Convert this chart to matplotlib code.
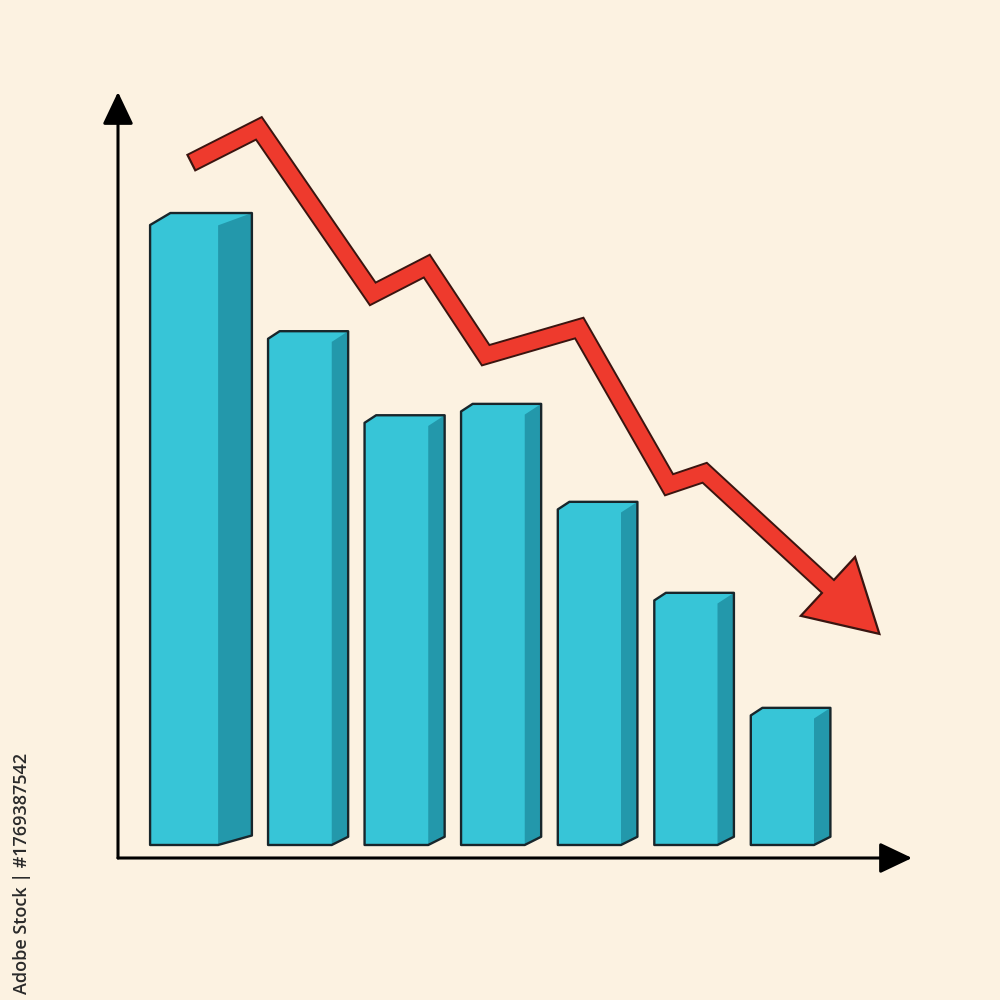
import matplotlib.pyplot as plt
import numpy as np

# bar heights (front face top, baseline = 0)
values = [100, 81.3, 68.0, 69.8, 54.3, 39.9, 21.7]
# zigzag trend arrow, last point is the arrow tip
trend_x = [0.78, 1.49, 2.67, 3.23, 3.84, 4.81, 5.74, 6.11, 7.92]
trend_y = [107.9, 113.4, 87.2, 91.6, 77.5, 81.8, 57.0, 58.9, 33.4]
credit = "Adobe Stock | #1769387542"

# styling
bg = "#fcf2e1"
front_col = "#37c5d7"
side_col = "#2398ab"
dark = "#18262b"
red = "#ee3a2d"
red_edge = "#3a1510"
front_w = [0.705, 0.66, 0.66, 0.66, 0.655, 0.655, 0.655]
depth = [0.35, 0.17, 0.17, 0.17, 0.17, 0.17, 0.17]
shift = [-0.11, 0, 0, 0, 0, 0, 0]
rise = [1.5, 1.3, 1.3, 1.3, 1.3, 1.3, 1.3]
chamfer = [(0.21, 1.9), (0.12, 1.2), (0.12, 1.2), (0.12, 1.2), (0.12, 1.2), (0.12, 1.2), (0.12, 1.2)]

fig = plt.figure(figsize=(10, 10), dpi=100, facecolor=bg)
ax = fig.add_axes([0.118, 0.142, 0.794, 0.766])
ax.set_xlim(0.03, 8.258)
ax.set_ylim(-2.06, 119.15)
ax.axis("off")

for i, v in enumerate(values):
    x = i + 1 + shift[i]
    L = x - (front_w[i] + depth[i]) / 2
    R = L + front_w[i]
    B = R + depth[i]
    cx, cy = chamfer[i]
    r = rise[i]
    outline = np.array([(L, 0), (L, v - cy), (L + cx, v), (B, v), (B, r), (R, 0)])
    side = np.array([(R, 0), (B, r), (B, v), (R, v - r * 1.3)])
    ax.fill(outline[:, 0], outline[:, 1], facecolor=front_col, edgecolor="none", zorder=2)
    ax.fill(side[:, 0], side[:, 1], facecolor=side_col, edgecolor="none", zorder=3)
    ax.fill(outline[:, 0], outline[:, 1], facecolor="none", edgecolor=dark,
            lw=1.7, joinstyle="round", zorder=4)

# trend arrow: build head in pixel space, then back to data
pts = ax.transData.transform(np.column_stack([trend_x, trend_y]))
tip = pts[-1]
d = tip - pts[-2]
d = d / np.hypot(*d)
n = np.array([-d[1], d[0]])
head_len, head_half = 70, 40
base = tip - d * head_len
inv = ax.transData.inverted()
head = inv.transform(np.array([base + n * head_half, tip, base - n * head_half]))

line_pts = np.vstack([pts[:-1], base])
red_pts = line_pts.copy()
d0 = red_pts[1] - red_pts[0]
red_pts[0] = red_pts[0] + 2.2 * d0 / np.hypot(*d0)
red_pts[-1] = base + d * 6
line_pts = inv.transform(line_pts)
red_pts = inv.transform(red_pts)

ax.plot(line_pts[:, 0], line_pts[:, 1], color=red_edge, lw=14,
        solid_joinstyle="miter", solid_capstyle="butt", zorder=5)
ax.fill(head[:, 0], head[:, 1], facecolor=red, edgecolor=red_edge, lw=1.6,
        joinstyle="miter", zorder=6)
ax.plot(red_pts[:, 0], red_pts[:, 1], color=red, lw=11.2,
        solid_joinstyle="miter", solid_capstyle="butt", zorder=7)

# axes with arrow heads
for end in [(0, 1), (1, 0)]:
    ax.annotate("", xy=end, xytext=(0, 0), xycoords="axes fraction",
                arrowprops=dict(arrowstyle="-|>,head_length=2.0,head_width=0.95",
                                mutation_scale=10, lw=2.2, color="black",
                                shrinkA=0, shrinkB=0))

fig.text(0.022, 0.127, credit, rotation=90, ha="center", va="center",
         fontsize=13, fontweight="semibold", color="#2a2a2a",
         family=["Open Sans", "DejaVu Sans"])

fig.savefig("out.png", dpi=100, facecolor=bg)
